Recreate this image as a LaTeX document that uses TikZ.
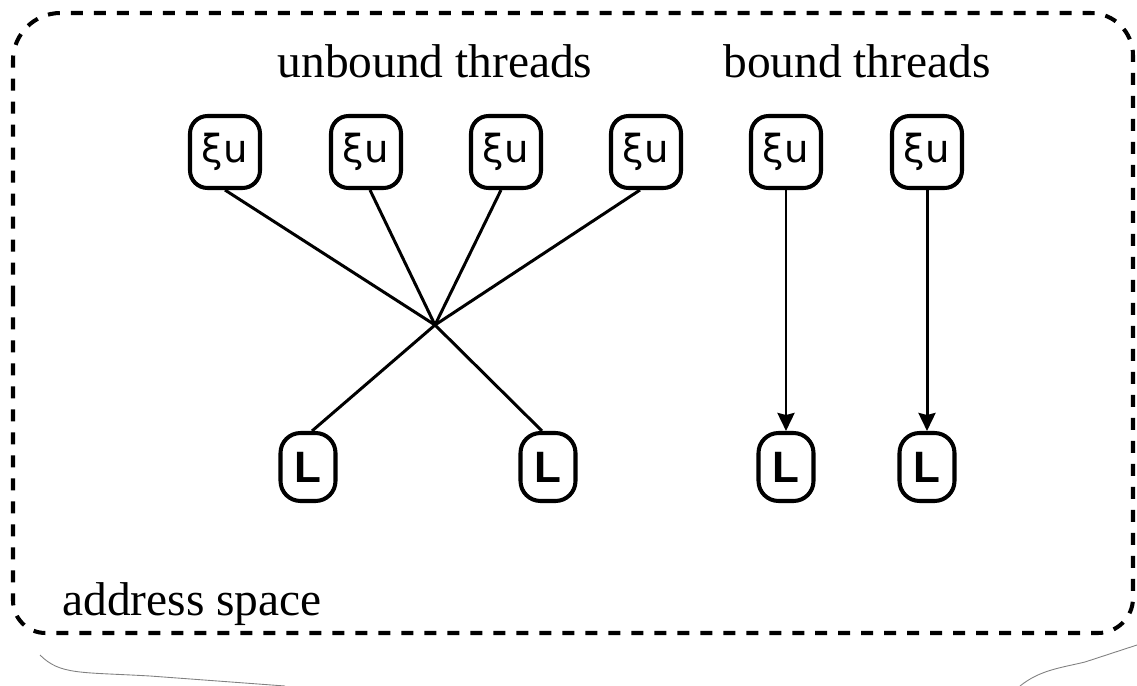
\documentclass[tikz,border=0pt]{standalone}
\usepackage{fontspec}
\setmainfont{Liberation Serif}
\newfontfamily\labfont{DejaVu Sans}
\newfontfamily\lwpfont{Liberation Sans}
\usetikzlibrary{arrows.meta}
\tikzset{
  frame/.style={line width=2.3pt, dash pattern=on 0.24cm off 0.22cm},
  ubox/.style={draw, line width=2.3pt, rounded corners=0.35cm, minimum width=1.4cm, minimum height=1.44cm, inner sep=0pt, font=\labfont\fontsize{22}{24}\selectfont},
  lbox/.style={draw, line width=2.3pt, rounded corners=0.4cm, minimum width=1.1cm, minimum height=1.36cm, inner sep=0pt, font=\lwpfont\bfseries\fontsize{25}{27}\selectfont},
  conn/.style={line width=1.7pt},
  bconn/.style={line width=1.7pt, -{Stealth[length=0.36cm, width=0.34cm, inset=0.04cm]}},
  lbl/.style={font=\fontsize{27}{30}\selectfont, inner sep=0pt},
  faint/.style={line width=0.5pt, gray}
}
\begin{document}
\begin{tikzpicture}[x=0.02cm, y=-0.02cm]
\useasboundingbox (0,0) rectangle (1137,686);
% address space frame
\draw[frame] (13,330) [rounded corners=0.95cm] -- (13,13) [rounded corners=0.85cm] -- (1133,13) [rounded corners=0.7cm] -- (1133,633) [rounded corners=0.65cm] -- (13,633) -- cycle;
% faint marks below
\draw[faint] (40,655) .. controls (60,675) and (80,672) .. (150,676) -- (285,686);
\draw[faint] (1020,686) .. controls (1040,670) and (1060,668) .. (1085,662) -- (1137,645);
% labels
\node[lbl, anchor=base] (tu) at (435,78) {unbound threads};
\node[lbl, anchor=base] (tb) at (857,78) {bound threads};
\node[lbl, anchor=base west] (ta) at (62,615) {address space};
% user threads
\node[ubox] (u1) at (225,152) {ξu};
\node[ubox] (u2) at (366,152) {ξu};
\node[ubox] (u3) at (506,152) {ξu};
\node[ubox] (u4) at (646,152) {ξu};
\node[ubox] (u5) at (786,152) {ξu};
\node[ubox] (u6) at (927,152) {ξu};
% LWPs
\node[lbox] (l1) at (308,467) {L};
\node[lbox] (l2) at (548,467) {L};
\node[lbox] (l3) at (786,467) {L};
\node[lbox] (l4) at (927,467) {L};
% multiplexing
\coordinate (c) at (435,325);
\draw[conn] (u1.south) -- (c);
\draw[conn] ([xshift=0.08cm]u2.south) -- (c);
\draw[conn] ([xshift=-0.1cm]u3.south) -- (c);
\draw[conn] ([xshift=-0.12cm]u4.south) -- (c);
\draw[conn] (c) -- ([xshift=0.08cm]l1.north);
\draw[conn] (c) -- ([xshift=-0.12cm]l2.north);
% bound
\draw[bconn] (u5) -- (l3);
\draw[bconn] (u6) -- (l4);
\end{tikzpicture}
\end{document}
